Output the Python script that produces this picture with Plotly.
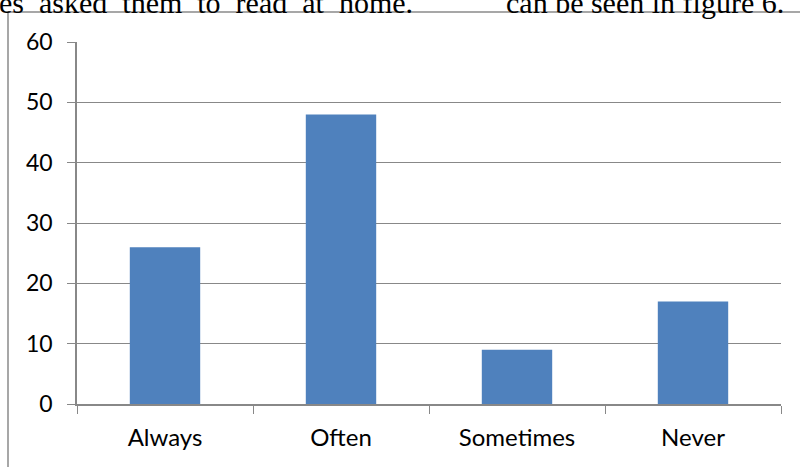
import plotly.graph_objects as go

categories = ["Always", "Often", "Sometimes", "Never"]
values = [26, 48, 9, 17]
y_ticks = [0, 10, 20, 30, 40, 50, 60]

W, H = 800, 467
ml, mr, mt, mb = 77, 19, 42, 63
pw, ph = W - ml - mr, H - mt - mb

def px_x(x):
    return (x - ml) / pw

def px_y(y):
    return (H - mb - y) / ph

fig = go.Figure()
fig.add_trace(go.Bar(x=categories, y=values, marker=dict(color="#4F81BD", line=dict(width=0)),
                     width=0.4))

grey = "#888888"
border = "#8a8a8a"
fig.update_layout(
    width=W, height=H, autosize=False,
    margin=dict(l=ml, r=mr, t=mt, b=mb, autoexpand=False),
    plot_bgcolor="white", paper_bgcolor="white",
    showlegend=False,
    font=dict(family="Lato, Open Sans, sans-serif", size=23, color="black"),
    xaxis=dict(showgrid=False, showline=True, linecolor=grey, linewidth=1.5,
               ticks="outside", tickson="boundaries", ticklen=8, tickcolor=grey,
               tickfont=dict(size=24), range=[-0.5, 3.5], ticklabelstandoff=11),
    yaxis=dict(range=[0, 60], tickvals=y_ticks, showgrid=True, gridcolor=grey, gridwidth=1.2,
               showline=True, linecolor=grey, linewidth=1.5, ticks="outside", ticklen=8,
               tickcolor=grey, tickfont=dict(size=23), zeroline=False, ticklabelstandoff=10),
    shapes=[
        dict(type="line", xref="paper", yref="paper",
             x0=px_x(8), x1=px_x(8), y0=px_y(12), y1=px_y(480),
             line=dict(color=border, width=1.5)),
        dict(type="line", xref="paper", yref="paper",
             x0=px_x(8), x1=px_x(810), y0=px_y(12), y1=px_y(12),
             line=dict(color=border, width=1.5)),
    ],
    annotations=[
        dict(text="es  asked  them  to  read  at  home.", xref="paper", yref="paper",
             x=px_x(-3), y=px_y(21), xanchor="left", yanchor="bottom", showarrow=False,
             font=dict(family="Liberation Serif", size=30, color="black")),
        dict(text="can be seen in figure 6.", xref="paper", yref="paper",
             x=px_x(504), y=px_y(21), xanchor="left", yanchor="bottom", showarrow=False,
             font=dict(family="Liberation Serif", size=30, color="black")),
    ],
)

post = ("document.body.style.margin='0';document.body.style.padding='0';"
        "document.body.style.overflow='hidden';"
        "var gd=document.getElementById('{plot_id}');"
        "gd.style.width='800px';gd.style.height='467px';"
        "Plotly.relayout(gd,{width:800,height:467});")

fig.write_html("out.html", config={"responsive": False, "displayModeBar": False},
               post_script=post)
